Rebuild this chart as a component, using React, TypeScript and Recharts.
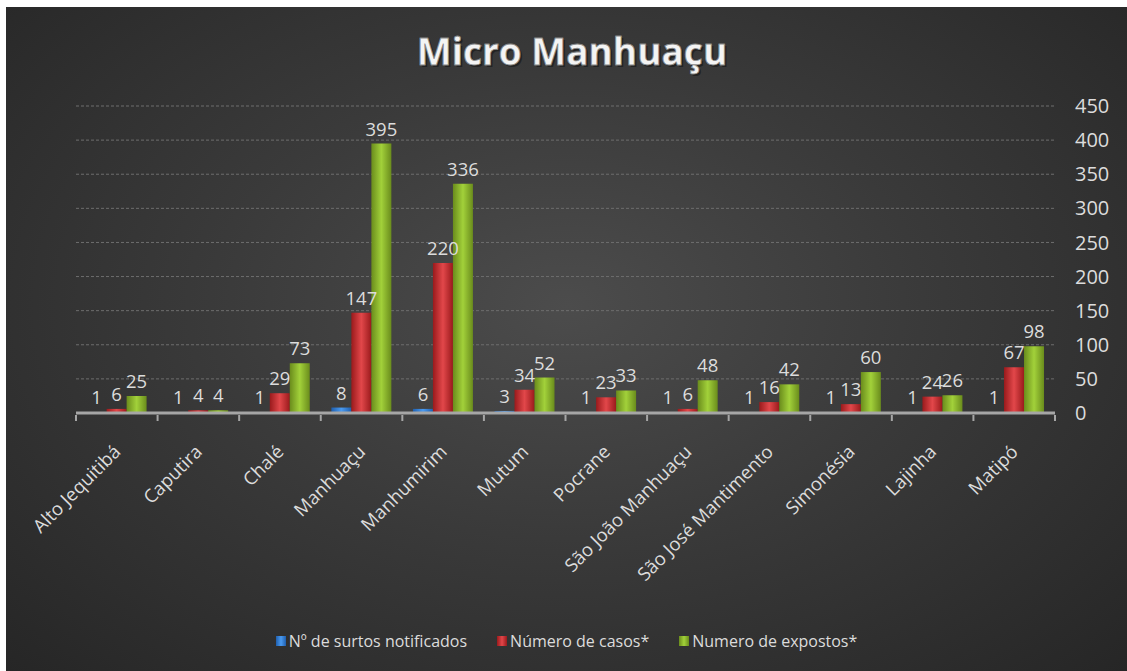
/**
 * Micro Manhuaçu - surtos por município
 */

import {
  BarChart, Bar, XAxis, YAxis, CartesianGrid, Legend, LabelList,
} from 'recharts';

/** municípios */
const MUNICIPIOS = [
  'Alto Jequitibá', 'Caputira', 'Chalé', 'Manhuaçu', 'Manhumirim', 'Mutum',
  'Pocrane', 'São João Manhuaçu', 'São José Mantimento', 'Simonésia', 'Lajinha', 'Matipó',
];
const SURTOS = [1, 1, 1, 8, 6, 3, 1, 1, 1, 1, 1, 1];
const CASOS = [6, 4, 29, 147, 220, 34, 23, 6, 16, 13, 24, 67];
const EXPOSTOS = [25, 4, 73, 395, 336, 52, 33, 48, 42, 60, 26, 98];
const Y_TICKS = [0, 50, 100, 150, 200, 250, 300, 350, 400, 450];

const SERIES = [
  { key: 'surtos', name: 'Nº de surtos notificados', grad: 'gBlue', edge: '#1f5fae', mid: '#4a9af0' },
  { key: 'casos', name: 'Número de casos*', grad: 'gRed', edge: '#9a1a1c', mid: '#e2474a' },
  { key: 'expostos', name: 'Numero de expostos*', grad: 'gGreen', edge: '#6a8c1c', mid: '#a2d13a' },
];

const data = MUNICIPIOS.map((m, i) => ({
  name: m, surtos: SURTOS[i], casos: CASOS[i], expostos: EXPOSTOS[i],
}));

const FONT = '"Open Sans", "Noto Sans", sans-serif';
const TXT = '#dcdcdc';

function CatTick(props: any) {
  const { x, y, payload, index } = props;
  const off = payload && payload.offset ? payload.offset : 40.8;
  const tx = x + 5;
  const ty = y + 32;
  return (
    <g>
      <line x1={x - off} y1={y - 6} x2={x - off} y2={y} stroke="#a6a6a6" strokeWidth={2} />
      {index === MUNICIPIOS.length - 1 && (
        <line x1={x + off} y1={y - 6} x2={x + off} y2={y} stroke="#a6a6a6" strokeWidth={2} />
      )}
      <text x={tx} y={ty} transform={`rotate(-45, ${tx}, ${ty})`} textAnchor="end"
        fill={TXT} fontSize={18.5} fontFamily={FONT}>
        {payload.value}
      </text>
    </g>
  );
}

function LegendBox() {
  return (
    <div style={{ display: 'flex', justifyContent: 'center', gap: 30, fontFamily: FONT, fontSize: 16, color: TXT }}>
      {SERIES.map((s) => (
        <div key={s.key} style={{ display: 'flex', alignItems: 'center', gap: 3 }}>
          <span style={{ display: 'inline-block', width: 10, height: 10, background: `linear-gradient(90deg, ${s.edge}, ${s.mid}, ${s.edge})` }} />
          <span>{s.name}</span>
        </div>
      ))}
    </div>
  );
}

export default function App() {
  return (
    <div style={{
      position: 'absolute', left: 6, top: 7, width: 1121, height: 664,
      background: 'radial-gradient(ellipse at 50% 45%, #4c4c4c 0%, #3a3a3a 45%, #262626 100%)',
    }}>
      <BarChart width={1121} height={664} data={data} barGap={0} barCategoryGap="13%"
        margin={{ top: 99, right: 0, left: 70, bottom: 36 }}>
        <defs>
          {SERIES.map((s) => (
            <linearGradient key={s.grad} id={s.grad} x1="0" y1="0" x2="1" y2="0">
              <stop offset="0%" stopColor={s.edge} />
              <stop offset="50%" stopColor={s.mid} />
              <stop offset="100%" stopColor={s.edge} />
            </linearGradient>
          ))}
        </defs>
        <text x={566} y={58} textAnchor="middle" fontFamily={FONT} fontWeight={700} fontSize={37}
          fill="#1a1a1a" opacity={0.7} transform="translate(2,2)">Micro Manhuaçu</text>
        <text x={566} y={58} textAnchor="middle" fontFamily={FONT} fontWeight={700} fontSize={37}
          fill="#f4f4f4" stroke="#8a8a8a" strokeWidth={0.8}>Micro Manhuaçu</text>
        <CartesianGrid vertical={false} stroke="#6e6e6e" strokeDasharray="3 2" />
        <XAxis dataKey="name" interval={0} height={200} tickLine={false}
          axisLine={{ stroke: '#a6a6a6', strokeWidth: 3 }} tick={<CatTick />} />
        <YAxis orientation="right" domain={[0, 450]} ticks={Y_TICKS} width={72}
          axisLine={false} tickLine={false} tickSize={0} tickMargin={20}
          tick={{ fill: TXT, fontSize: 20, fontFamily: FONT, textAnchor: 'start' }} />
        <Legend verticalAlign="bottom" content={<LegendBox />}
          wrapperStyle={{ position: 'absolute', top: 623, left: 0, width: 1121 }} />
        {SERIES.map((s) => (
          <Bar key={s.key} dataKey={s.key} name={s.name} fill={`url(#${s.grad})`} isAnimationActive={false}>
            <LabelList dataKey={s.key} position="top" offset={8} fill={TXT} fontSize={18.5} fontFamily={FONT} />
          </Bar>
        ))}
      </BarChart>
    </div>
  );
}
